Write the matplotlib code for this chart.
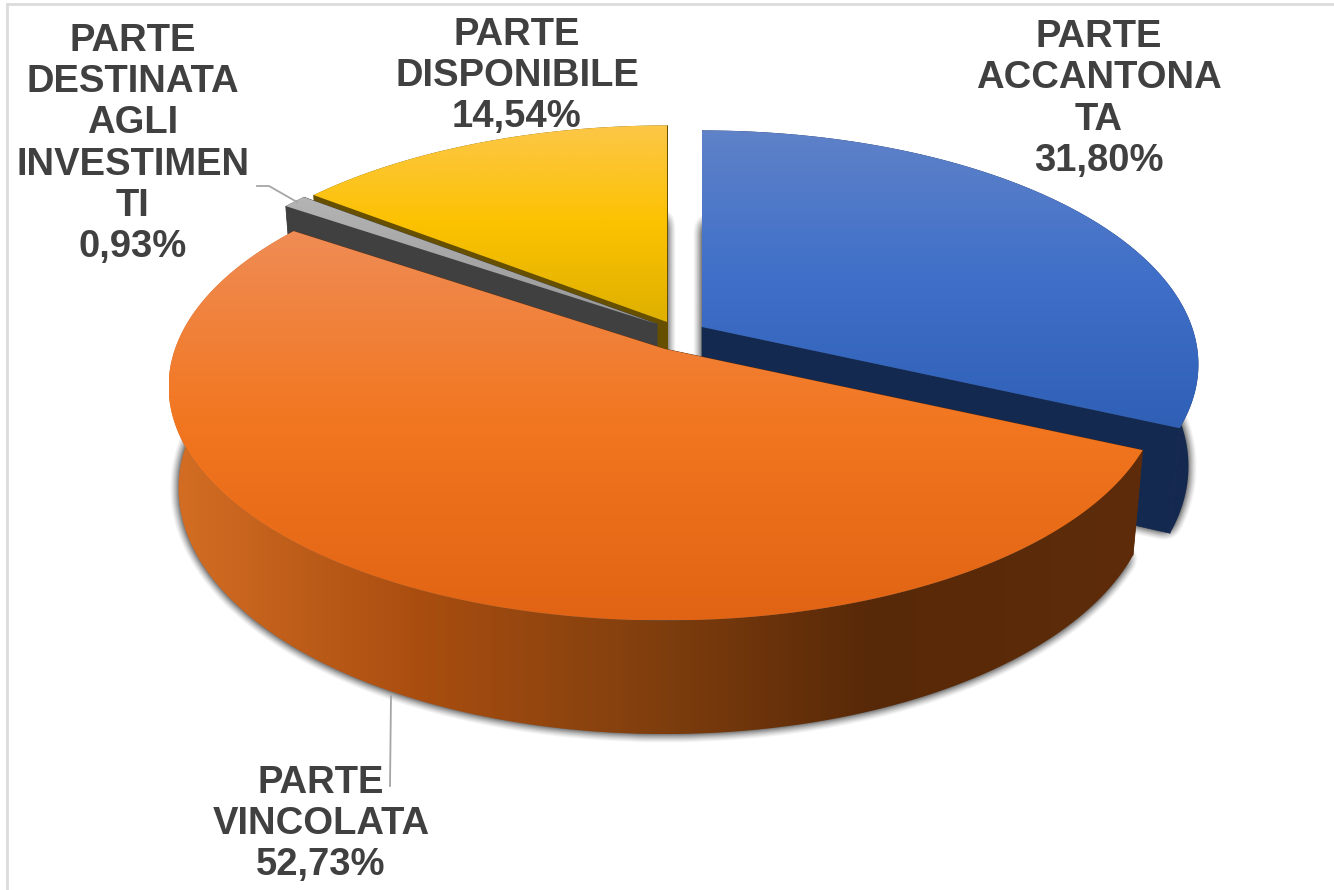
import numpy as np
import matplotlib
matplotlib.use("Agg")
import matplotlib.pyplot as plt
from matplotlib.colors import LinearSegmentedColormap
from matplotlib.patches import Polygon
from matplotlib.path import Path

# ---- data ----
categories = ["PARTE\nACCANTONA\nTA", "PARTE\nVINCOLATA",
              "PARTE\nDESTINATA\nAGLI\nINVESTIMEN\nTI", "PARTE\nDISPONIBILE"]
values = [31.80, 52.73, 0.93, 14.54]
value_labels = ["31,80%", "52,73%", "0,93%", "14,54%"]

# ---- style / layout ----
W, H = 1334, 890
B, A, P = 490.0, 228.0, 0.16     # projection of the pie disc
DEPTH, SHRINK = 100.0, 0.98      # extrusion
centers = [(702, 327), (665, 349), (657, 324), (667, 322)]
top_stops = [
    ["#5f82c9", "#3f6fc8", "#2f60b6"],
    ["#ef8c55", "#f2761f", "#e16414"],
    ["#b4b4b4", "#a6a6a6", "#989898"],
    ["#fcc748", "#fcc200", "#deb000"],
]
side_stops = [
    [(0, "#14294f"), (1, "#14294f")],
    [(0, "#d46e24"), (.25, "#aa4e10"), (.48, "#83400e"), (.72, "#582908"), (1, "#5e2c0a")],
    [(0, "#404040"), (1, "#404040")],
    [(0, "#665000"), (1, "#665000")],
]
cut_colors = ["#14294f", "#5e2c0a", "#404040", "#665000"]
text_color = "#404040"
label_pos = [(1099, 99), (321, 824), (133, 144), (517, 76)]


def rim(t):
    """Top rim offset of the disc at clockwise angle t (radians from 12 o'clock)."""
    u, v = np.sin(t), -np.cos(t)
    d = 1 - P * v
    return B * u / d, A * v / d, DEPTH / d


def top_pts(c, t):
    x, y, _ = rim(t)
    return np.column_stack([c[0] + x, c[1] + y])


def bot_pts(c, t):
    x, y, d = rim(t)
    return np.column_stack([c[0] + x * SHRINK, c[1] + y * SHRINK + d])


def apex(c):
    return np.array([[c[0], c[1]]], float), np.array([[c[0], c[1] + DEPTH]], float)


def gradient(ax, poly, stops, vertical, z):
    xy = poly
    x0, x1 = xy[:, 0].min(), xy[:, 0].max()
    y0, y1 = xy[:, 1].min(), xy[:, 1].max()
    cmap = LinearSegmentedColormap.from_list("g", stops)
    g = np.linspace(0, 1, 256)
    arr = g[:, None] if vertical else g[None, :]
    im = ax.imshow(arr, cmap=cmap, extent=(x0, x1, y1, y0), aspect="auto",
                   zorder=z, interpolation="bilinear", vmin=0, vmax=1)
    patch = Polygon(xy, closed=True, transform=ax.transData, fc="none", ec="none")
    ax.add_patch(patch)
    im.set_clip_path(patch)


fig = plt.figure(figsize=(W / 100, H / 100), dpi=100, facecolor="white")
ax = fig.add_axes([0, 0, 1, 1])
ax.set_xlim(0, W)
ax.set_ylim(H, 0)
ax.axis("off")

fr = np.array(values) / sum(values) * 2 * np.pi
ends = np.cumsum(fr)
starts = ends - fr

# soft shadow from the underside of every wedge
yy, xx = np.mgrid[0:H, 0:W]
grid = np.column_stack([xx.ravel() + .5, yy.ravel() + .5])
mask = np.zeros((H, W))
for c, s, e in zip(centers, starts, ends):
    t = np.linspace(s, e, 160)
    _, ab = apex(c)
    path = Path(np.vstack([ab, bot_pts(c, t)]))
    bb = path.get_extents()
    sel = (grid[:, 0] > bb.x0) & (grid[:, 0] < bb.x1) & (grid[:, 1] > bb.y0) & (grid[:, 1] < bb.y1)
    hit = np.zeros(len(grid), bool)
    hit[sel] = path.contains_points(grid[sel])
    mask = np.maximum(mask, hit.reshape(H, W).astype(float))
k = np.ones(15) / 15
blur = mask
for _ in range(2):
    blur = np.apply_along_axis(lambda r: np.convolve(r, k, mode="same"), 0, blur)
    blur = np.apply_along_axis(lambda r: np.convolve(r, k, mode="same"), 1, blur)
alpha = np.clip((blur - 0.08) / 0.5, 0, 1) * 0.8
rgba = np.zeros((H, W, 4))
rgba[..., :3] = 0.2
rgba[..., 3] = alpha
ax.imshow(rgba, extent=(0, W, H, 0), aspect="auto", zorder=1, interpolation="bilinear")

# wedges, back to front
for i, z in zip([3, 2, 0, 1], [10, 20, 30, 40]):
    c, s, e = centers[i], starts[i], ends[i]
    t = np.linspace(s, e, 240)
    at, ab = apex(c)
    for ang, dz in ((s, 0), (e, 1)):
        q = np.vstack([at, top_pts(c, np.array([ang])), bot_pts(c, np.array([ang])), ab])
        ax.add_patch(Polygon(q, closed=True, fc=cut_colors[i], ec=cut_colors[i],
                             lw=.5, zorder=z + dz))
    side = np.vstack([top_pts(c, t), bot_pts(c, t)[::-1]])
    gradient(ax, side, side_stops[i], False, z + 2)
    top = np.vstack([at, top_pts(c, t)])
    gradient(ax, top, top_stops[i], True, z + 3)

# labels
for lab, val, (x, y) in zip(categories, value_labels, label_pos):
    ax.text(x, y, lab + "\n" + val, ha="center", va="center", multialignment="center",
            fontsize=27.5, fontweight="bold", family="Liberation Sans",
            color=text_color, linespacing=1.19, zorder=60)

# leader lines
ax.plot([257, 269, 297], [186, 186, 202], color="#a6a6a6", lw=1.3, zorder=50)
ax.plot([391, 390], [696, 786], color="#a6a6a6", lw=1.3, zorder=5)

# frame
ax.plot([7, 7], [890, 4], color="#dcdcdc", lw=2, zorder=0)
ax.plot([7, 1334], [4, 4], color="#dcdcdc", lw=2, zorder=0)

fig.savefig("out.png", dpi=100)
